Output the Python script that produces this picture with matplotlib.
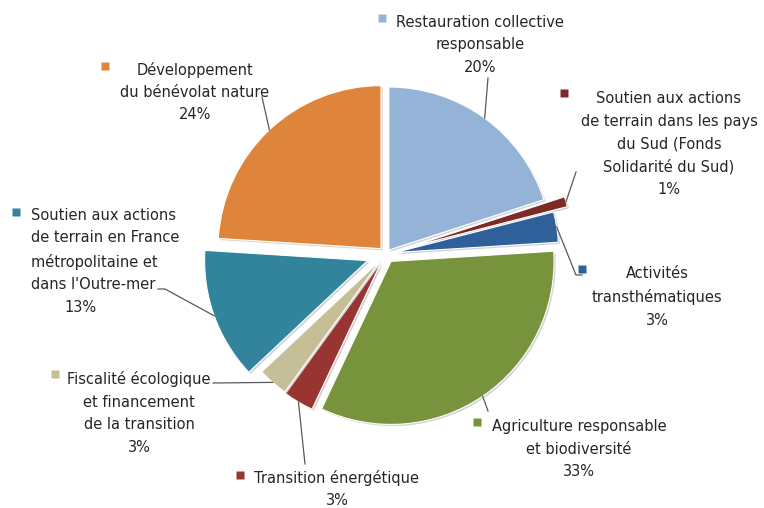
import numpy as np
import matplotlib
matplotlib.use("Agg")
import matplotlib.pyplot as plt
import matplotlib.patheffects as pe

W, H = 764, 508

# data (clockwise from 12 o'clock)
categories = [
    "Restauration collective\nresponsable",
    "Soutien aux actions\nde terrain dans les pays\ndu Sud (Fonds\nSolidarité du Sud)",
    "Activités\ntransthématiques",
    "Agriculture responsable\net biodiversité",
    "Transition énergétique",
    "Fiscalité écologique\net financement\nde la transition",
    "Soutien aux actions\nde terrain en France\nmétropolitaine et\ndans l'Outre-mer",
    "Développement\ndu bénévolat nature",
]
shares = [20, 1, 3, 33, 3, 3, 13, 24]
pct_labels = ["20%", "1%", "3%", "33%", "3%", "3%", "13%", "24%"]
colors = ["#95b3d7", "#7b2a28", "#30609a", "#77933c",
          "#983533", "#c5be97", "#31849b", "#de853b"]
explode = [0.03, 0.15, 0.06, 0.055, 0.055, 0.05, 0.12, 0.045]

# layout in image pixels (y from top)
RADIUS = 163
label_xy = [(480, 45), (669, 144), (657, 297), (579, 449),
            (337, 489), (139, 413), (31, 250), (195, 92)]
marker_xy = [(382, 18), (564, 93), (582, 269), (477, 422),
             (240, 475), (55, 374), (16, 212), (105, 66)]
leader_end = [[(488, 78)], [(576, 172)], [(576, 275), (582, 275)],
              [(488, 411)], [(305, 464)], [(213, 383)],
              [(165, 289), (158, 289)], [(262, 97)]]

def fy(y):
    return H - y

fig = plt.figure(figsize=(W / 100, H / 100), dpi=100)
ax = fig.add_axes([0, 0, 1, 1])

# pie's explode is in data units, so scale the fractions by the radius
wedges, _ = ax.pie(shares, explode=[e * RADIUS for e in explode],
                   colors=colors, startangle=90, counterclock=False,
                   center=(386, fy(254)), radius=RADIUS,
                   wedgeprops=dict(edgecolor="white", linewidth=0.8))
for w in wedges:
    w.set_path_effects([pe.SimplePatchShadow(offset=(1.2, -1.2), alpha=0.2),
                        pe.Normal()])

ax.set_xlim(0, W)
ax.set_ylim(0, H)
ax.set_aspect("equal")
ax.axis("off")

txt = dict(fontsize=10.5, color="#262626", linespacing=1.62)
for i, w in enumerate(wedges):
    # leader line from the wedge's outer mid point to the label
    th = np.deg2rad((w.theta1 + w.theta2) / 2)
    cx, cy = w.center
    pts = [(cx + w.r * np.cos(th), cy + w.r * np.sin(th))]
    pts += [(x, fy(y)) for x, y in leader_end[i]]
    xs, ys = zip(*pts)
    ax.plot(xs, ys, color="#595959", lw=0.9, zorder=3)

    mx, my = marker_xy[i]
    ax.plot(mx, fy(my), marker="s", ms=5.5, color=colors[i],
            mec="none", zorder=4)

    lx, ly = label_xy[i]
    if i == 6:
        ax.text(lx, fy(ly), categories[i], ha="left", va="center",
                multialignment="left", **txt)
        ax.text(81, fy(308), pct_labels[i], ha="center", va="center", **txt)
    else:
        ax.text(lx, fy(ly), categories[i] + "\n" + pct_labels[i],
                ha="center", va="center", multialignment="center", **txt)

fig.savefig("out.png", dpi=100, facecolor="white")
